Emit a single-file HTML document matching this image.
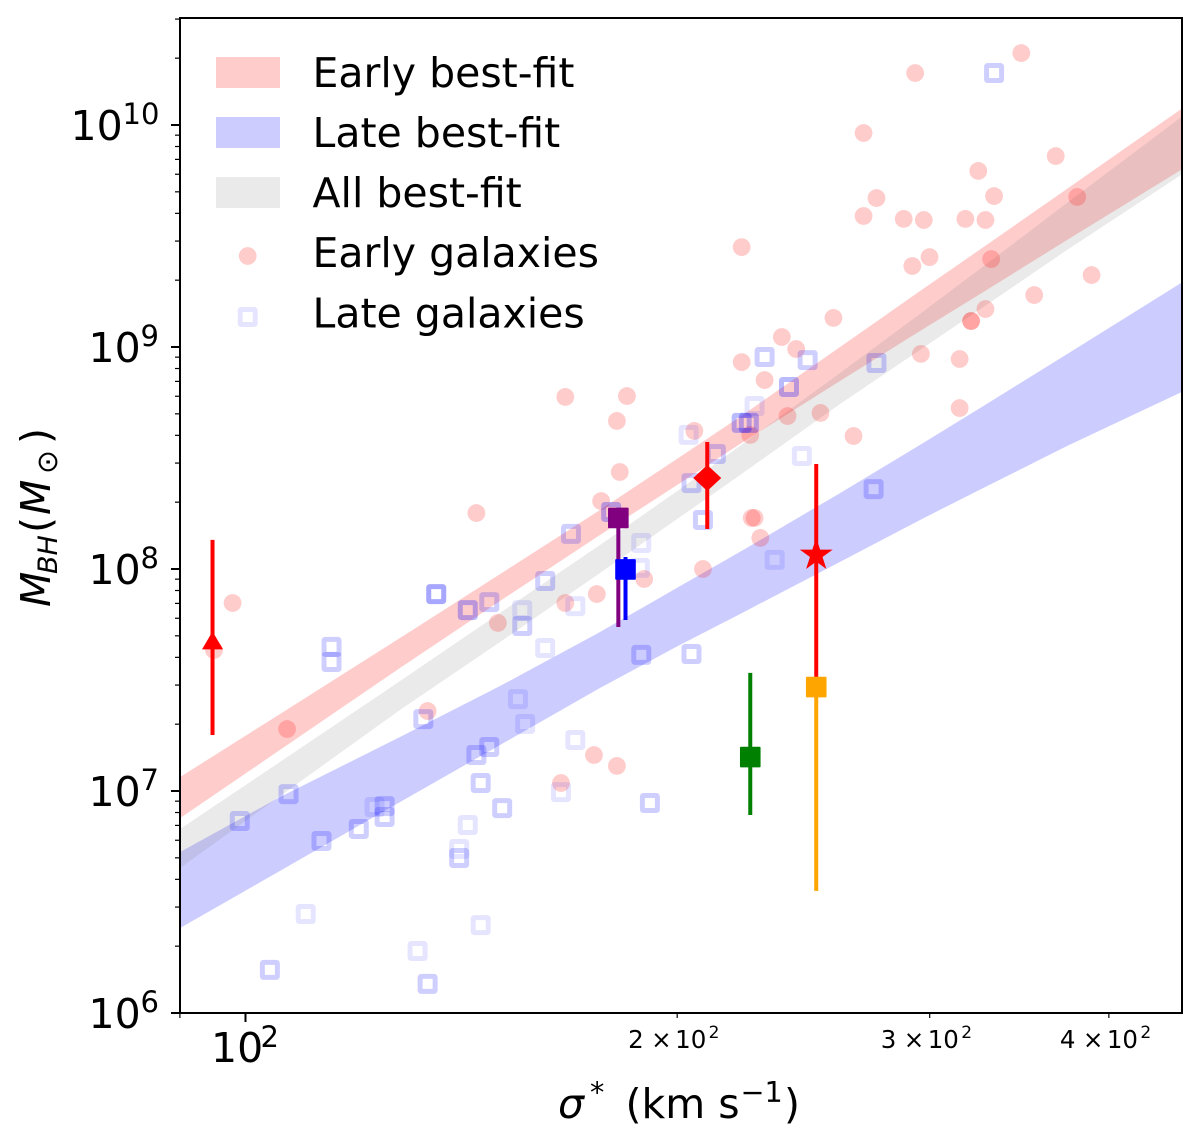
<!DOCTYPE html>
<html lang="en">
<head>
<meta charset="utf-8">
<title>Black hole mass vs velocity dispersion</title>
<style>
html,body{margin:0;padding:0;background:#fff;width:1200px;height:1147px;overflow:hidden}
svg{display:block}
text{font-family:"DejaVu Sans","Liberation Sans",sans-serif;fill:#000}
</style>
</head>
<body>
<svg id="chart" xmlns="http://www.w3.org/2000/svg" width="1200" height="1147" viewBox="0 0 1200 1147">
<defs><clipPath id="plot-clip"><rect x="180" y="18" width="1002" height="995"/></clipPath></defs>
<rect width="1200" height="1147" fill="#fff"/>
<g id="bands" clip-path="url(#plot-clip)"></g>
<g id="early-points" clip-path="url(#plot-clip)"></g>
<g id="late-points" clip-path="url(#plot-clip)"></g>
<g id="highlights"></g>
<g id="ticks"></g>
<g id="tick-labels"></g>
<rect x="180" y="18" width="1002" height="995" fill="none" stroke="#000" stroke-width="2"/>

<g>
  <g>
    <rect x="216" y="57" width="64" height="31" fill="#ff0000" fill-opacity="0.2"/>
    <text x="312.5" y="87" font-size="41">Early best-fit</text>
  </g>
  <g>
    <rect x="216" y="117" width="64" height="31" fill="#0000ff" fill-opacity="0.2"/>
    <text x="312.5" y="147" font-size="41">Late best-fit</text>
  </g>
  <g>
    <rect x="216" y="177" width="64" height="31" fill="#808080" fill-opacity="0.17"/>
    <text x="312.5" y="207" font-size="41">All best-fit</text>
  </g>
  <g>
    <circle cx="247.7" cy="256" r="8.9" fill="#ff0000" fill-opacity="0.2"/>
    <text x="312.5" y="267" font-size="41">Early galaxies</text>
  </g>
  <g>
    <rect x="240.2" y="309.5" width="15" height="15" rx="1" fill="none" stroke="#0000ff" stroke-opacity="0.1" stroke-width="5"/>
    <text x="312.5" y="327.5" font-size="41">Late galaxies</text>
  </g>
</g>

<text y="1118" font-size="41"><tspan x="558" font-style="italic">σ</tspan><tspan x="590" y="1102" font-size="28.7">*</tspan><tspan x="625.5" y="1118">(km s</tspan><tspan x="740.5" y="1102" font-size="28.7">−1</tspan><tspan x="784" y="1118">)</tspan></text>
<text transform="translate(50,607) rotate(-90)" font-size="41"><tspan font-style="italic">M</tspan><tspan x="33" dy="7" font-size="27" font-style="italic">BH</tspan><tspan x="74" dy="-7">(</tspan><tspan x="92" font-style="italic">M</tspan><tspan x="133" dy="7" font-size="28.7">⊙</tspan><tspan x="163" dy="-7">)</tspan></text>
</svg>

<script>
const xMajorTicks = [2];
const xMinorTicks = [1.954243, 2.30103, 2.477121, 2.60206];
const xMinorLabels = ["2", "3", "4"];
const yMajorTicks = [6, 7, 8, 9, 10];
const yTickLabels = ["10", "10", "10", "10", "10"];
const yTickExponents = ["6", "7", "8", "9", "10"];
const yMinorMultipliers = [2, 3, 4, 5, 6, 7, 8, 9];

const bandLogSigma = [1.9544, 2.0241, 2.1077, 2.1775, 2.2472, 2.3030, 2.3448, 2.4146, 2.4704, 2.5157, 2.5729, 2.6545];
const earlyFitUpper = [7.063, 7.347, 7.689, 7.977, 8.266, 8.505, 8.685, 9.000, 9.252, 9.455, 9.712, 10.081];
const earlyFitLower = [6.878, 7.185, 7.554, 7.856, 8.153, 8.387, 8.563, 8.847, 9.072, 9.252, 9.482, 9.806];
const lateFitUpper = [6.725, 6.973, 7.243, 7.473, 7.716, 7.923, 8.077, 8.342, 8.559, 8.739, 8.968, 9.297];
const lateFitLower = [6.383, 6.640, 6.950, 7.207, 7.464, 7.658, 7.797, 8.032, 8.221, 8.369, 8.554, 8.802];
const allFitUpper = [6.829, 7.131, 7.495, 7.802, 8.108, 8.360, 8.554, 8.883, 9.149, 9.369, 9.649, 10.045];
const allFitLower = [6.653, 6.977, 7.365, 7.671, 7.982, 8.234, 8.423, 8.743, 8.987, 9.185, 9.437, 9.784];

const earlyLogSigma = [2.541,2.467,2.431,2.565,2.511,2.440,2.522,2.580,2.431,2.459,2.473,2.502,2.516,2.346,2.477,2.465,2.520,2.590,2.550,2.516,2.506,2.506,2.410,2.374,2.384,2.471,2.498,2.346,2.362,2.266,2.259,2.498,2.378,2.401,2.424,2.313,2.352,2.223,2.261,2.248,2.161,2.353,2.355,2.359,2.319,2.278,2.245,2.223,2.176,1.991,1.978,2.029,2.127,2.243,2.259,2.220];
const earlyLogMass = [10.324,10.234,9.964,9.860,9.793,9.671,9.680,9.676,9.590,9.577,9.572,9.577,9.572,9.450,9.405,9.365,9.396,9.324,9.234,9.171,9.117,9.117,9.131,9.045,8.991,8.969,8.946,8.932,8.851,8.779,8.667,8.725,8.689,8.703,8.599,8.622,8.604,8.775,8.437,8.306,8.252,8.230,8.230,8.140,8.000,7.955,7.887,7.847,7.757,7.847,7.635,7.279,7.360,7.162,7.113,7.036];

const lateLogSigma = [2.133,2.155,2.170,2.209,2.193,2.193,2.060,2.060,2.209,2.230,2.124,2.190,2.195,2.170,2.161,2.179,2.164,2.230,2.220,2.155,2.149,2.149,2.097,2.090,2.097,2.079,2.053,2.030,1.996,2.042,2.017,2.120,2.127,2.164,2.227,2.255,2.276,2.275,2.276,2.311,2.309,2.311,2.319,2.328,2.346,2.351,2.355,2.379,2.388,2.369,2.522,2.362,2.392,2.440,2.438,2.282];
const lateLogMass = [7.887,7.815,7.851,7.946,7.815,7.743,7.649,7.581,7.644,7.833,7.324,7.414,7.302,7.198,7.162,6.923,7.036,7.230,6.995,6.847,6.739,6.698,6.932,6.928,6.883,6.829,6.775,6.986,6.865,6.446,6.194,6.279,6.131,6.396,8.158,8.257,8.117,8.005,7.613,7.617,8.604,8.387,8.221,8.518,8.658,8.658,8.734,8.820,8.509,8.041,10.234,8.955,8.941,8.928,8.360,6.946];
const lateOverplotCount = [4,3,2,2,1,2,2,2,1,1,2,1,1,2,2,2,2,1,1,1,1,2,2,1,2,2,2,2,2,1,2,1,2,1,2,3,1,1,2,2,1,2,2,2,3,3,1,3,1,1,2,2,2,2,2,2];

const highlightNames = ["triangle", "diamond", "star", "orange-square", "green-square", "purple-square", "blue-square"];
const highlightLogSigma = [1.977, 2.322, 2.398, 2.398, 2.352, 2.260, 2.265];
const highlightLogMass = [7.676, 8.410, 8.063, 7.468, 7.153, 8.230, 7.998];
const highlightErrLow = [7.252, 8.180, 7.500, 6.550, 6.892, 7.739, 7.770];
const highlightErrHigh = [8.131, 8.572, 8.473, 7.468, 7.532, 8.230, 8.054];

const NS = "http://www.w3.org/2000/svg";
const xPos = v => 245.5 + 1434 * (v - 2);
const yPos = v => 1013 - 222 * (v - 6);
function make(tag, parent, attrs) {
  const el = document.createElementNS(NS, tag);
  for (const k in attrs) el.setAttribute(k, attrs[k]);
  document.getElementById(parent).appendChild(el);
  return el;
}
function bandPoints(upper, lower) {
  const top = bandLogSigma.map((s, i) => xPos(s) + "," + yPos(upper[i]));
  const bottom = bandLogSigma.map((s, i) => xPos(s) + "," + yPos(lower[i])).reverse();
  return top.concat(bottom).join(" ");
}

// Bands
const earlyBand = make("polygon", "bands", {points: bandPoints(earlyFitUpper, earlyFitLower), fill: "#ff0000", "fill-opacity": 0.2});


const lateBand = make("polygon", "bands", {points: bandPoints(lateFitUpper, lateFitLower), fill: "#0000ff", "fill-opacity": 0.2});


const allBand = make("polygon", "bands", {points: bandPoints(allFitUpper, allFitLower), fill: "#808080", "fill-opacity": 0.17});



// Early galaxies
earlyLogSigma.forEach((s, i) => {
  const c = make("circle", "early-points", {cx: xPos(s), cy: yPos(earlyLogMass[i]), r: 8.9, fill: "#ff0000", "fill-opacity": 0.2});
  
  
});

// Late galaxies
lateLogSigma.forEach((s, i) => {
  const r = make("rect", "late-points", {
    x: xPos(s) - 7.5, y: yPos(lateLogMass[i]) - 7.5, width: 15, height: 15, rx: 1,
    fill: "none", stroke: "#0000ff", "stroke-width": 5,
    "stroke-opacity": 1 - Math.pow(0.9, lateOverplotCount[i])
  });
  
  
});

// Highlighted measurements
const highlightColors = {"triangle": "#ff0000", "diamond": "#ff0000", "star": "#ff0000", "orange-square": "#ffa500", "green-square": "#008000", "purple-square": "#800080", "blue-square": "#0000ff"};
function starPoints(cx, cy, R) {
  const pts = [];
  for (let k = 0; k < 10; k++) {
    const rad = k % 2 === 0 ? R : R * 0.382;
    const a = -Math.PI / 2 + k * Math.PI / 5;
    pts.push((cx + rad * Math.cos(a)) + "," + (cy + rad * Math.sin(a)));
  }
  return pts.join(" ");
}
highlightNames.forEach((name, i) => {
  const cx = xPos(highlightLogSigma[i]);
  const cy = yPos(highlightLogMass[i]);
  const color = highlightColors[name];
  const bar = make("line", "highlights", {x1: cx, x2: cx, y1: yPos(highlightErrLow[i]), y2: yPos(highlightErrHigh[i]), stroke: color, "stroke-width": 4});
  
  
  let m;
  if (name === "triangle") {
    m = make("polygon", "highlights", {points: cx + "," + (cy - 9.5) + " " + (cx + 10.5) + "," + (cy + 8.5) + " " + (cx - 10.5) + "," + (cy + 8.5), fill: color});
  } else if (name === "diamond") {
    m = make("polygon", "highlights", {points: cx + "," + (cy - 13) + " " + (cx + 14) + "," + cy + " " + cx + "," + (cy + 13) + " " + (cx - 14) + "," + cy, fill: color});
  } else if (name === "star") {
    m = make("polygon", "highlights", {points: starPoints(cx, cy, 17.3), fill: color});
  } else {
    m = make("rect", "highlights", {x: cx - 10.3, y: cy - 10.3, width: 20.6, height: 20.6, rx: 1, fill: color});
  }
  
  
});

// Axis ticks
function tick(x1, y1, x2, y2, w, name) {
  const t = make("line", "ticks", {x1: x1, y1: y1, x2: x2, y2: y2, stroke: "#000", "stroke-width": w});
  
  
}
xMajorTicks.forEach(v => tick(xPos(v), 1013, xPos(v), 1022, 2, 'x-major-tick'));
xMinorTicks.forEach(v => tick(xPos(v), 1013, xPos(v), 1018, 1.2, 'x-minor-tick'));
yMajorTicks.forEach(v => {
  tick(171, yPos(v), 180, yPos(v), 2, 'y-major-tick');
  yMinorMultipliers.forEach(m => {
    const lv = v + Math.log10(m);
    if (yPos(lv) >= 18) tick(175, yPos(lv), 180, yPos(lv), 1.2, 'y-minor-tick');
  });
});

// Tick labels
function label(str, x, y, size, name) {
  const t = make("text", "tick-labels", {x: x, y: y, "font-size": size});
  t.textContent = str;
  
  
}
yMajorTicks.forEach((v, i) => {
  const exp = yTickExponents[i];
  const base = exp.length > 1 ? 70.5 : 88.5;
  label(yTickLabels[i], base, yPos(v) + 15, 41, 'y-tick-label');
  label(exp, base + 52, yPos(v) - 1, 29, 'y-tick-exponent');
});
label("10", 211, 1062, 41, 'x-tick-label');
label("2", 260.5, 1047, 29, 'x-tick-exponent');
[2, 3, 4].forEach((m, i) => {
  const tx = xPos(2 + Math.log10(m));
  label(xMinorLabels[i], tx - 49, 1048, 24.5, 'x-minor-tick-label-multiplier');
  label("×", tx - 26, 1048, 24.5, 'x-minor-tick-label-times');
  label("10", tx - 2, 1048, 24.5, 'x-minor-tick-label-base');
  label("2", tx + 31.5, 1038, 17, 'x-minor-tick-label-exponent');
});
</script>
</body>
</html>
